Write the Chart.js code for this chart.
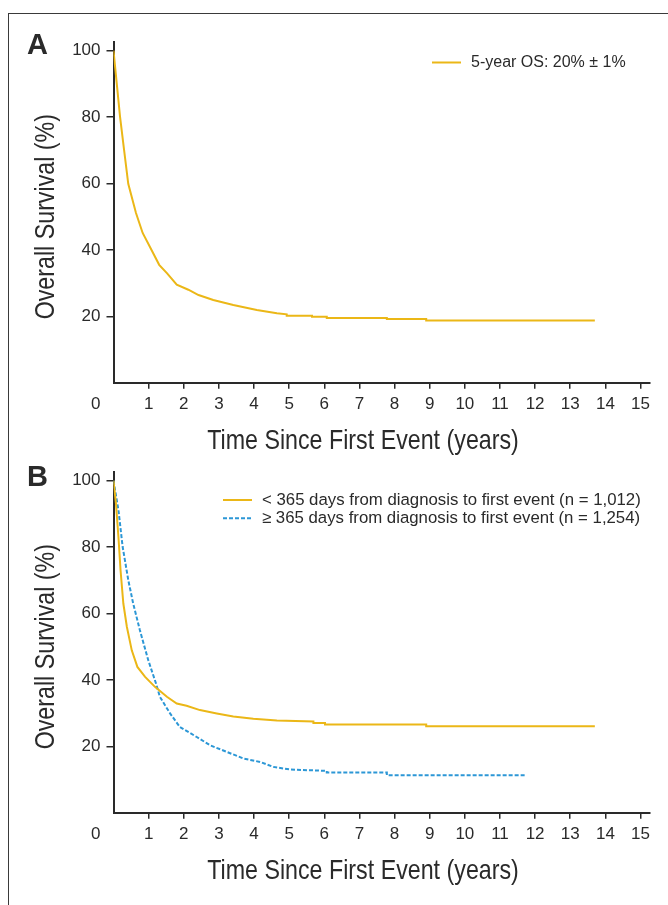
<!DOCTYPE html>
<html><head><meta charset="utf-8">
<script src="https://cdn.jsdelivr.net/npm/chart.js@4.4.1/dist/chart.umd.min.js"></script>
<style>
html,body{margin:0;padding:0;background:#fff;width:668px;height:905px;overflow:hidden;}
#frame{position:absolute;left:8px;top:13px;width:700px;height:1000px;border-left:1px solid #3a3a3a;border-top:1px solid #3a3a3a;}
canvas{position:absolute;left:0;}
#cA{top:0}
#cB{top:430px}
</style></head><body>
<div id="frame"></div>
<canvas id="cA" width="668" height="460"></canvas>
<canvas id="cB" width="668" height="460"></canvas>
<script>
// ---- data ----
const xTickValues = [1,2,3,4,5,6,7,8,9,10,11,12,13,14,15];
const yTickValues = [20,40,60,80,100];

// Panel A: all patients
const timeA = [0, 0.185, 0.30, 0.42, 0.64, 0.83, 1.09, 1.30, 1.52, 1.80, 2.13, 2.42, 2.84, 3.41, 4.08, 4.65, 4.93, 4.93, 5.65, 5.65, 6.07, 6.07, 7.78, 7.78, 8.90, 8.90, 13.70];
const osA   = [100, 80.2, 70.2, 59.9, 51.1, 45.1, 39.8, 35.5, 33.0, 29.5, 28.0, 26.4, 24.9, 23.4, 21.9, 20.9, 20.6, 20.2, 20.2, 19.9, 19.9, 19.5, 19.5, 19.2, 19.2, 18.7, 18.7];

// Panel B: < 365 days
const timeEarly = [0, 0.07, 0.14, 0.20, 0.28, 0.38, 0.52, 0.68, 0.90, 1.18, 1.52, 1.80, 2.08, 2.46, 2.94, 3.41, 3.98, 4.65, 5.69, 5.69, 6.02, 6.02, 8.90, 8.90, 13.70];
const osEarly   = [100, 93.1, 83.1, 73.1, 63.0, 56.0, 48.9, 43.9, 40.9, 37.9, 34.9, 32.9, 32.2, 30.9, 29.9, 29.0, 28.3, 27.8, 27.5, 27.0, 27.0, 26.6, 26.6, 26.0, 26.0];
// Panel B: >= 365 days
const timeLate = [0, 0.14, 0.26, 0.42, 0.56, 0.75, 0.99, 1.21, 1.32, 1.61, 1.89, 2.37, 2.75, 3.23, 3.70, 4.17, 4.55, 5.03, 6.07, 6.07, 7.78, 7.78, 11.73];
const osLate   = [100, 91.2, 80.1, 70.1, 63.0, 55.0, 45.9, 38.9, 34.9, 29.9, 25.8, 22.8, 20.3, 18.3, 16.3, 15.3, 13.8, 13.0, 12.6, 12.1, 12.1, 11.3, 11.3];

const legendA = ['5-year OS: 20% \u00b1 1%'];
const legendB = ['< 365 days from diagnosis to first event (n = 1,012)', '\u2265 365 days from diagnosis to first event (n = 1,254)'];
const xTitle = 'Time Since First Event (years)';
const yTitle = 'Overall Survival (%)';

const YELLOW = '#EBB717';
const BLUE = '#2C97D6';
const INK = '#2a2a2a';
const TICK_FONT = {family: "'Liberation Sans', Arial, sans-serif", size: 17};
const TITLE_FAMILY = "'Liberation Sans', Arial, sans-serif";

const pts = (xs, ys) => xs.map((x, i) => ({x, y: ys[i]}));

function condensedText(ctx, text, x, y, rot) {
  ctx.save();
  ctx.translate(x, y);
  if (rot) ctx.rotate(rot);
  ctx.scale(0.83, 1);
  ctx.font = `28px ${TITLE_FAMILY}`;
  ctx.fillStyle = INK;
  ctx.textAlign = 'center';
  ctx.textBaseline = 'alphabetic';
  ctx.fillText(text, 0, 0);
  ctx.restore();
}

const overlay = {
  id: 'overlay',
  afterDraw(chart, args, o) {
    const ctx = chart.ctx;
    const xs = chart.scales.x, ys = chart.scales.y;
    ctx.save();
    // origin "0" label
    ctx.font = `${TICK_FONT.size}px ${TICK_FONT.family}`;
    ctx.fillStyle = INK;
    ctx.textAlign = 'right';
    ctx.textBaseline = 'middle';
    const tl = xs.options.grid.tickLength, pad = xs.options.ticks.padding;
    ctx.fillText('0', ys.right - ys.options.grid.tickLength - ys.options.ticks.padding,
                 xs.top + tl + pad + TICK_FONT.size * 1.2 / 2);
    // axis titles (condensed)
    condensedText(ctx, xTitle, 363, xs.top + 66.5, 0);
    condensedText(ctx, yTitle, 54, (ys.top + ys.bottom) / 2 + 4.5, -Math.PI / 2);
    // panel letter
    ctx.textAlign = 'left';
    ctx.textBaseline = 'alphabetic';
    ctx.fillStyle = INK;
    ctx.font = `bold 29px 'Liberation Sans', Arial, sans-serif`;
    ctx.fillText(o.letter, o.letterX, o.letterY);
    // legend
    ctx.font = `${o.legendSize}px 'Liberation Sans', Arial, sans-serif`;
    o.items.forEach((it, i) => {
      const y = o.legendY + i * o.legendGap;
      ctx.strokeStyle = it.color;
      ctx.lineWidth = 2;
      ctx.setLineDash(it.dash || []);
      ctx.beginPath();
      ctx.moveTo(o.legendX, y);
      ctx.lineTo(o.legendX + 29, y);
      ctx.stroke();
      ctx.setLineDash([]);
      ctx.fillStyle = INK;
      ctx.textBaseline = 'middle';
      ctx.fillText(it.text, o.legendX + 39, y + 0.5);
    });
    ctx.restore();
  }
};

function makeOptions(extra) {
  return {
    responsive: false,
    animation: false,
    devicePixelRatio: 1,
    layout: {padding: {left: 0, top: 41.7, right: 18.7, bottom: 0}},
    plugins: {legend: {display: false}, tooltip: {enabled: false}, overlay: extra},
    elements: {point: {radius: 0}, line: {tension: 0, borderWidth: 2}},
    scales: {
      x: {
        type: 'linear', min: 0, max: 15.25,
        afterBuildTicks: s => { s.ticks = xTickValues.map(v => ({value: v})); },
        afterFit: s => { s.height = 460 - 382.7; },
        ticks: {font: TICK_FONT, color: INK, padding: 5, autoSkip: false, maxRotation: 0},
        grid: {drawOnChartArea: false, drawTicks: true, tickLength: 6, color: INK, lineWidth: 1.5},
        border: {display: true, color: INK, width: 2},
        title: {display: false}
      },
      y: {
        min: 0, max: 102.7,
        afterBuildTicks: s => { s.ticks = yTickValues.map(v => ({value: v})); },
        afterFit: s => { s.width = 113.5; },
        ticks: {font: TICK_FONT, color: INK, padding: 6},
        grid: {drawOnChartArea: false, drawTicks: true, tickLength: 7, color: INK, lineWidth: 1.5},
        border: {display: true, color: INK, width: 2},
        title: {display: false}
      }
    }
  };
}

new Chart(document.getElementById('cA'), {
  type: 'line',
  data: {datasets: [{label: legendA[0], data: pts(timeA, osA), borderColor: YELLOW, fill: false}]},
  options: makeOptions({letter: 'A', letterX: 27, letterY: 54, legendSize: 16, legendX: 432, legendY: 62.5, legendGap: 18,
    items: [{text: legendA[0], color: YELLOW}]}),
  plugins: [overlay]
});

new Chart(document.getElementById('cB'), {
  type: 'line',
  data: {datasets: [
    {label: legendB[0], data: pts(timeEarly, osEarly), borderColor: YELLOW, fill: false},
    {label: legendB[1], data: pts(timeLate, osLate), borderColor: BLUE, borderDash: [4, 2], fill: false}
  ]},
  options: makeOptions({letter: 'B', letterX: 27, letterY: 56, legendSize: 16.8, legendX: 223, legendY: 70, legendGap: 18.3,
    items: [{text: legendB[0], color: YELLOW}, {text: legendB[1], color: BLUE, dash: [4, 2]}]}),
  plugins: [overlay]
});
</script></body></html>
